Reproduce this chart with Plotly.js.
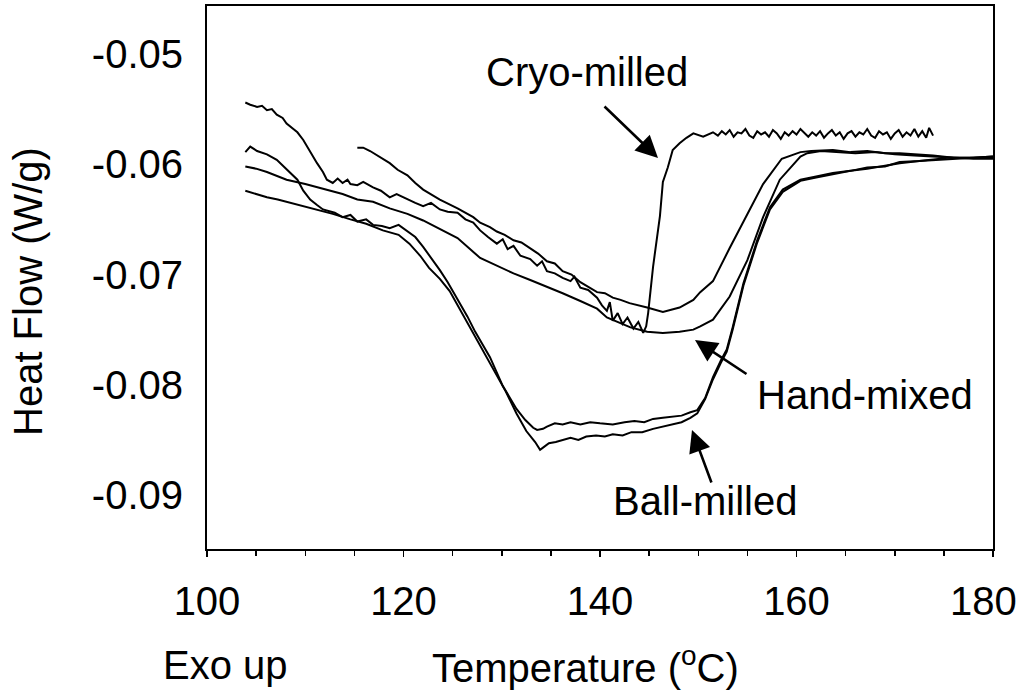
<!DOCTYPE html>
<html>
<head>
<meta charset="utf-8">
<script src="https://cdn.plot.ly/plotly-3.0.1.min.js"></script>
<style>html,body{margin:0;padding:0;background:#fff;}#chart{width:1022px;height:698px;}</style>
</head>
<body>
<div id="chart"></div>
<script>
// ---- Data ----
const cryoT = [103.9,104.4,105.1,105.6,106.1,106.6,107.1,107.7,108.1,108.5,109.2,109.8,110.5,111.2,111.8,112.2,112.8,113.3,113.8,114.3,114.6,115.3,115.9,116.9,117.7,118.6,119.3,120.4,121.2,122.0,122.8,123.7,124.5,125.5,126.3,127.1,127.8,128.6,129.5,130.1,130.6,131.2,131.9,132.9,133.6,134.1,134.6,135.4,136.2,137.0,137.4,138.0,138.8,139.7,140.2,140.7,141.0,141.3,141.8,142.3,142.8,143.4,143.9,144.4,144.7,144.9,145.4,146.1,146.4,146.9,147.4,148.1,148.8,149.5,150.5,151.5,152.0,152.4,152.8,153.2,153.6,154.0,154.4,154.8,155.2,155.6,156.0,156.4,156.8,157.2,157.6,158.0,158.4,158.8,159.2,159.6,160.0,160.4,160.8,161.2,161.6,162.0,162.4,162.8,163.2,163.6,164.0,164.4,164.8,165.2,165.6,166.0,166.4,166.8,167.2,167.6,168.0,168.4,168.8,169.2,169.6,170.0,170.4,170.8,171.2,171.6,172.0,172.4,172.8,173.2,173.5,173.9];
const cryoHF = [-0.0544,-0.0546,-0.0548,-0.0547,-0.0551,-0.0550,-0.0555,-0.0558,-0.0563,-0.0566,-0.0571,-0.0578,-0.0589,-0.0599,-0.0607,-0.0614,-0.0617,-0.0613,-0.0617,-0.0614,-0.0618,-0.0619,-0.0616,-0.0621,-0.0624,-0.0630,-0.0627,-0.0632,-0.0635,-0.0638,-0.0635,-0.0641,-0.0643,-0.0644,-0.0650,-0.0653,-0.0660,-0.0666,-0.0672,-0.0668,-0.0677,-0.0674,-0.0683,-0.0686,-0.0692,-0.0688,-0.0697,-0.0699,-0.0703,-0.0706,-0.0702,-0.0712,-0.0714,-0.0721,-0.0728,-0.0733,-0.0725,-0.0742,-0.0735,-0.0745,-0.0739,-0.0749,-0.0743,-0.0753,-0.0747,-0.0735,-0.0693,-0.0647,-0.0616,-0.0603,-0.0587,-0.0581,-0.0576,-0.0572,-0.0575,-0.0571,-0.0574,-0.0570,-0.0573,-0.0569,-0.0575,-0.0571,-0.0572,-0.0568,-0.0574,-0.0576,-0.0570,-0.0573,-0.0571,-0.0575,-0.0569,-0.0572,-0.0577,-0.0571,-0.0574,-0.0570,-0.0573,-0.0568,-0.0572,-0.0575,-0.0571,-0.0574,-0.0570,-0.0576,-0.0572,-0.0569,-0.0574,-0.0571,-0.0577,-0.0572,-0.0570,-0.0575,-0.0571,-0.0573,-0.0568,-0.0574,-0.0576,-0.0570,-0.0573,-0.0571,-0.0577,-0.0572,-0.0569,-0.0575,-0.0571,-0.0574,-0.0568,-0.0575,-0.0570,-0.0576,-0.0567,-0.0574];

const handAT = [115.3,115.9,116.6,117.3,118.6,119.4,120.4,121.2,122.0,123.7,125.5,127.1,127.8,128.8,129.5,130.3,131.2,132.0,132.9,133.7,134.6,135.4,136.2,137.1,138.0,138.8,139.7,140.5,141.3,142.1,143.0,144.8,146.4,148.1,149.5,150.2,151.5,153.2,155.0,156.6,158.5,160.4,161.5,163.7,165.5,167.2,169.0,170.5,172.0,173.9,176.0,178.0,180.0];
const handAHF = [-0.0585,-0.0585,-0.0588,-0.0592,-0.0599,-0.0605,-0.0610,-0.0617,-0.0623,-0.0632,-0.0640,-0.0648,-0.0653,-0.0657,-0.0661,-0.0664,-0.0669,-0.0671,-0.0676,-0.0681,-0.0688,-0.0690,-0.0697,-0.0700,-0.0707,-0.0711,-0.0716,-0.0717,-0.0721,-0.0723,-0.0726,-0.0730,-0.0734,-0.0730,-0.0723,-0.0716,-0.0706,-0.0676,-0.0645,-0.0618,-0.0595,-0.0589,-0.0588,-0.0587,-0.0589,-0.0588,-0.0590,-0.0590,-0.0591,-0.0592,-0.0594,-0.0594,-0.0594];

const handBT = [103.9,105.0,106.1,107.2,108.1,110.0,111.8,113.8,115.3,116.9,118.6,120.4,122.0,123.7,125.5,127.8,129.5,131.2,132.9,134.6,136.2,138.0,139.7,140.7,142.0,143.1,144.8,146.4,148.1,149.5,150.2,151.5,153.2,155.0,156.6,158.3,160.4,161.1,162.5,164.0,166.0,168.0,170.0,172.0,174.0,176.0,178.0,180.0];
const handBHF = [-0.0602,-0.0604,-0.0607,-0.0611,-0.0614,-0.0618,-0.0622,-0.0627,-0.0632,-0.0634,-0.0640,-0.0645,-0.0651,-0.0659,-0.0667,-0.0685,-0.0692,-0.0699,-0.0705,-0.0711,-0.0717,-0.0724,-0.0731,-0.0739,-0.0744,-0.0748,-0.0752,-0.0753,-0.0752,-0.0750,-0.0747,-0.0741,-0.0720,-0.0687,-0.0648,-0.0614,-0.0593,-0.0590,-0.0588,-0.0589,-0.0590,-0.0589,-0.0591,-0.0592,-0.0593,-0.0594,-0.0595,-0.0595];

const ballAT = [103.9,104.4,105.1,106.1,107.1,108.1,109.2,109.8,110.5,111.2,111.8,113.0,113.8,114.6,115.3,116.2,116.9,117.8,118.6,119.5,120.4,121.2,122.0,123.0,123.7,124.5,125.5,126.5,127.3,128.8,130.1,131.5,132.4,133.2,133.6,134.2,134.6,135.4,136.2,137.0,138.0,139.0,140.0,141.3,142.5,143.5,144.5,145.4,146.4,147.4,148.3,149.2,149.9,150.7,151.5,152.3,152.9,153.5,154.6,156.0,157.3,158.6,160.4,162.0,163.7,165.5,167.2,169.0,170.5,172.5,175.6,178.0,180.0];
const ballAHF = [-0.0589,-0.0584,-0.0588,-0.0591,-0.0596,-0.0605,-0.0614,-0.0624,-0.0632,-0.0637,-0.0641,-0.0644,-0.0648,-0.0646,-0.0652,-0.0650,-0.0655,-0.0656,-0.0658,-0.0655,-0.0661,-0.0666,-0.0675,-0.0687,-0.0696,-0.0707,-0.0722,-0.0738,-0.0752,-0.0775,-0.0801,-0.0822,-0.0832,-0.0839,-0.0841,-0.0840,-0.0838,-0.0835,-0.0836,-0.0834,-0.0836,-0.0834,-0.0835,-0.0836,-0.0834,-0.0833,-0.0834,-0.0831,-0.0830,-0.0829,-0.0828,-0.0825,-0.0823,-0.0812,-0.0793,-0.0778,-0.0768,-0.0748,-0.0708,-0.0669,-0.0639,-0.0623,-0.0614,-0.0611,-0.0608,-0.0606,-0.0603,-0.0602,-0.0598,-0.0597,-0.0594,-0.0594,-0.0593];

const ballBT = [103.9,105.0,106.1,107.2,108.5,109.8,111.2,112.8,114.6,116.2,117.9,119.5,120.6,121.7,122.6,123.7,124.7,125.7,126.8,127.8,129.2,130.4,131.5,132.5,133.4,133.9,134.2,134.8,135.5,136.2,137.0,137.8,138.6,139.6,140.5,141.3,142.3,143.2,144.3,145.4,146.4,147.4,148.3,149.2,149.9,150.7,151.5,152.3,152.9,153.5,154.6,156.0,157.3,158.6,160.4,162.0,163.7,165.5,167.2,169.0,170.5,172.5,175.6,178.0,180.0];
const ballBHF = [-0.0624,-0.0627,-0.0630,-0.0632,-0.0635,-0.0638,-0.0641,-0.0645,-0.0650,-0.0654,-0.0660,-0.0664,-0.0672,-0.0683,-0.0694,-0.0704,-0.0715,-0.0731,-0.0748,-0.0765,-0.0786,-0.0806,-0.0826,-0.0842,-0.0852,-0.0859,-0.0857,-0.0853,-0.0852,-0.0850,-0.0848,-0.0850,-0.0847,-0.0846,-0.0847,-0.0845,-0.0846,-0.0843,-0.0843,-0.0840,-0.0838,-0.0836,-0.0834,-0.0830,-0.0826,-0.0813,-0.0795,-0.0780,-0.0770,-0.0750,-0.0710,-0.0671,-0.0641,-0.0625,-0.0615,-0.0612,-0.0609,-0.0606,-0.0604,-0.0601,-0.0599,-0.0597,-0.0595,-0.0594,-0.0593];

const yTicks = [-0.05,-0.06,-0.07,-0.08,-0.09];
const yTickText = ['-0.05','-0.06','-0.07','-0.08','-0.09'];
const xTicks = [100,120,140,160,180];
const xTickText = ['100','120','140','160','180'];
const labels = ['Cryo-milled','Hand-mixed','Ball-milled'];

// ---- Layout helpers (pixel -> data) ----
const L = 207, R = 993, T = 6, B = 549;
const X = px => 100 + (px - L) / 9.825;
const Y = py => -0.05 - (py - 54) / 11025;
const FONT = 'Liberation Sans, Arial, Helvetica, sans-serif';

const lineStyle = {color: '#000', width: 2};
const traces = [
  {x: cryoT, y: cryoHF},
  {x: handAT, y: handAHF},
  {x: handBT, y: handBHF},
  {x: ballAT, y: ballAHF},
  {x: ballBT, y: ballBHF}
].map(d => Object.assign({type: 'scatter', mode: 'lines', line: lineStyle, hoverinfo: 'skip'}, d));

function arrow(tx, ty, hx, hy) {
  return {x: X(hx), y: Y(hy), xref: 'x', yref: 'y', ax: X(tx), ay: Y(ty), axref: 'x', ayref: 'y',
    text: '', showarrow: true, arrowhead: 2, arrowsize: 1.7, arrowwidth: 2.6, arrowcolor: '#000', standoff: 0};
}
function label(text, px, py, opts) {
  return Object.assign({x: X(px), y: Y(py), xref: 'x', yref: 'y', text: text, showarrow: false,
    font: {family: FONT, size: 40, color: '#000'}, xanchor: 'center', yanchor: 'middle'}, opts || {});
}

// last tick label is drawn inside the page edge (as in the reference)
const shownTickText = xTickText.map((t, i) => i === xTickText.length - 1 ? '' : t);

const layout = {
  width: 1022, height: 698,
  margin: {l: L, r: 1022 - R, t: T, b: 698 - B, pad: 0},
  paper_bgcolor: '#fff', plot_bgcolor: '#fff',
  showlegend: false,
  font: {family: FONT, size: 40, color: '#000'},
  xaxis: {
    range: [100, 180], tickmode: 'array', tickvals: xTicks, ticktext: shownTickText,
    ticks: 'outside', ticklen: 6, tickwidth: 1.5, tickcolor: '#000',
    minor: {dtick: 5, ticks: 'outside', ticklen: 5, tickwidth: 1.5, tickcolor: '#000', showgrid: false},
    showgrid: false, zeroline: false, showline: true, linecolor: '#000', linewidth: 2, mirror: true,
    tickfont: {family: FONT, size: 40, color: '#000'}, ticklabelstandoff: 10, ticklabeloverflow: 'allow'
  },
  yaxis: {
    range: [Y(B), Y(T)], tickmode: 'array', tickvals: yTicks, ticktext: yTickText,
    ticks: '', showgrid: false, zeroline: false, showline: true, linecolor: '#000', linewidth: 2, mirror: true,
    tickfont: {family: FONT, size: 40, color: '#000'}, ticklabelstandoff: 14
  },
  annotations: [
    arrow(603, 105, 658, 158),
    arrow(748, 375, 695, 340),
    arrow(712, 484, 692, 430),
    label(labels[0], 587, 72),
    label(labels[1], 865, 395),
    label(labels[2], 705, 501),
    {xref: 'paper', yref: 'paper', x: (1019 - L) / (R - L), y: (B - 601) / (B - T), text: xTickText[xTickText.length - 1],
     showarrow: false, xanchor: 'right', yanchor: 'middle', font: {family: FONT, size: 40, color: '#000'}},
    {xref: 'paper', yref: 'paper', x: (28 - L) / (R - L), y: (B - 292) / (B - T), text: 'Heat Flow (W/g)',
     textangle: -90, showarrow: false, xanchor: 'center', yanchor: 'middle', font: {family: FONT, size: 40, color: '#000'}},
    {xref: 'paper', yref: 'paper', x: (585 - L) / (R - L), y: (B - 665) / (B - T), text: 'Temperature (<sup>o</sup>C)',
     showarrow: false, xanchor: 'center', yanchor: 'middle', font: {family: FONT, size: 40, color: '#000'}},
    {xref: 'paper', yref: 'paper', x: (225 - L) / (R - L), y: (B - 665) / (B - T), text: 'Exo up',
     showarrow: false, xanchor: 'center', yanchor: 'middle', font: {family: FONT, size: 40, color: '#000'}}
  ]
};

Plotly.newPlot('chart', traces, layout, {staticPlot: true, displayModeBar: false});
</script>
</body>
</html>
